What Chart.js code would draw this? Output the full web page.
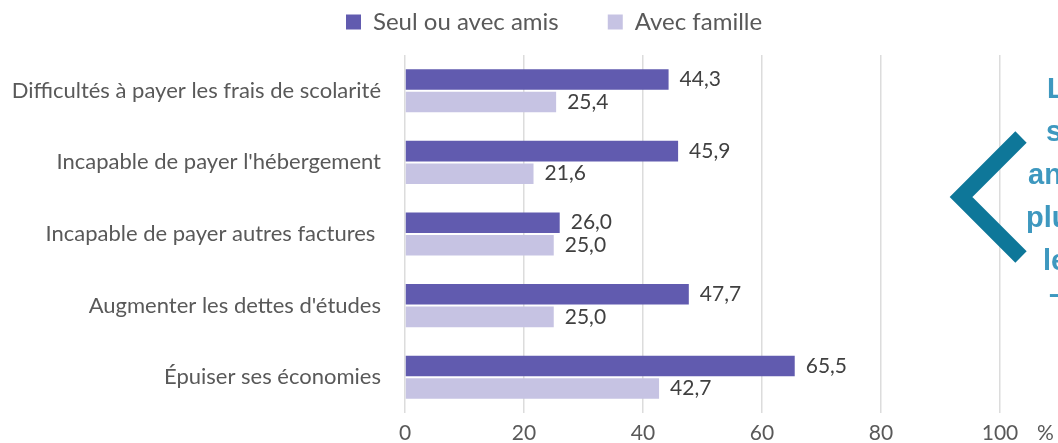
<!DOCTYPE html>
<html>
<head>
<meta charset="utf-8">
<script src="https://cdn.jsdelivr.net/npm/chart.js@4"></script>
<style>
  body { margin: 0; background: #fff; }
</style>
</head>
<body>
<canvas id="myChart" width="1058" height="443"></canvas>
<script>
var categories = [
  "Difficultés à payer les frais de scolarité",
  "Incapable de payer l'hébergement",
  "Incapable de payer autres factures ",
  "Augmenter les dettes d'études",
  "Épuiser ses économies"
];
var seulAmis = [44.3, 45.9, 26.0, 47.7, 65.5];
var avecFamille = [25.4, 21.6, 25.0, 25.0, 42.7];
var seriesNames = ["Seul ou avec amis", "Avec famille"];
var sideText = ["L", "s", "an", "plu", "le", "–"];

var darkColor = "#615BAF";
var lightColor = "#C6C3E3";
var labelFont = "Lato";
var tickPad = 8;

// values next to the bars
var barValues = {
  id: 'barValues',
  afterDatasetsDraw: function (chart) {
    var ctx = chart.ctx;
    ctx.save();
    ctx.font = "21px " + labelFont;
    ctx.fillStyle = "#404040";
    ctx.textAlign = "left";
    ctx.textBaseline = "middle";
    chart.data.datasets.forEach(function (ds, i) {
      chart.getDatasetMeta(i).data.forEach(function (bar, j) {
        var txt = ds.data[j].toFixed(1).replace('.', ',');
        ctx.fillText(txt, bar.x + 11, bar.y);
      });
    });
    ctx.restore();
  }
};

// legend: keep the chart area where it is and move the items
var legendPlace = {
  id: 'legendPlace',
  beforeInit: function (chart) {
    var fit = chart.legend.fit;
    chart.legend.fit = function () {
      fit.bind(chart.legend)();
      this.height = 55;
    };
  },
  afterLayout: function (chart) {
    var lg = chart.legend;
    var pad = lg.options.labels.padding;
    var fs = lg.options.labels.font.size;
    lg.top = 22 - fs / 2 - pad;
    lg.left = 346 - pad;
    lg.right = 1058;
  }
};

// "%" unit, chevron and the cut text on the right
var extras = {
  id: 'extras',
  afterDraw: function (chart) {
    var ctx = chart.ctx;
    var area = chart.chartArea;
    ctx.save();
    ctx.font = "21px " + labelFont;
    ctx.fillStyle = "#595959";
    ctx.textBaseline = "middle";
    ctx.textAlign = "left";
    ctx.fillText("%", 1037, area.bottom + tickPad + 12.6);

    ctx.strokeStyle = "#0E7799";
    ctx.lineWidth = 16;
    ctx.lineJoin = "miter";
    ctx.lineCap = "butt";
    ctx.beginPath();
    ctx.moveTo(1021, 137);
    ctx.lineTo(961, 197);
    ctx.lineTo(1021, 257);
    ctx.stroke();

    ctx.font = "bold 29px 'Liberation Sans'";
    ctx.fillStyle = "#3E98BF";
    ctx.textBaseline = "alphabetic";
    var xs = [1047, 1046, 1028, 1026, 1043, 1049];
    var ys = [98, 141, 184, 227, 270, 304];
    sideText.forEach(function (t, i) {
      ctx.fillText(t, xs[i], ys[i]);
    });
    ctx.restore();
  }
};

var ctx = document.getElementById('myChart').getContext('2d');
var myChart = new Chart(ctx, {
  type: 'bar',
  data: {
    labels: categories,
    datasets: [
      {
        label: seriesNames[0],
        data: seulAmis,
        backgroundColor: darkColor,
        borderWidth: 0
      },
      {
        label: seriesNames[1],
        data: avecFamille,
        backgroundColor: lightColor,
        borderWidth: 0
      }
    ]
  },
  options: {
    indexAxis: 'y',
    responsive: false,
    animation: false,
    devicePixelRatio: 1,
    categoryPercentage: 0.63,
    barPercentage: 0.91,
    layout: {
      padding: { left: 0, right: 58, top: 0, bottom: 0 }
    },
    plugins: {
      legend: {
        position: 'top',
        align: 'start',
        labels: {
          boxWidth: 15,
          boxHeight: 15,
          padding: 49,
          color: "#595959",
          font: { family: labelFont, size: 24 }
        }
      },
      tooltip: { enabled: false }
    },
    scales: {
      x: {
        min: 0,
        max: 100,
        ticks: {
          stepSize: 20,
          padding: tickPad,
          color: "#595959",
          font: { family: labelFont, size: 21 }
        },
        grid: {
          color: "#DCDCDC",
          lineWidth: 1.5,
          drawTicks: false
        },
        border: { display: false },
        afterFit: function (scale) {
          scale.height = 30;
        }
      },
      y: {
        ticks: {
          padding: 16,
          color: "#595959",
          font: { family: labelFont, size: 22 }
        },
        grid: { display: false },
        border: { display: false },
        afterFit: function (scale) {
          scale.width = 405;
        }
      }
    }
  },
  plugins: [barValues, legendPlace, extras]
});
</script>
</body>
</html>
